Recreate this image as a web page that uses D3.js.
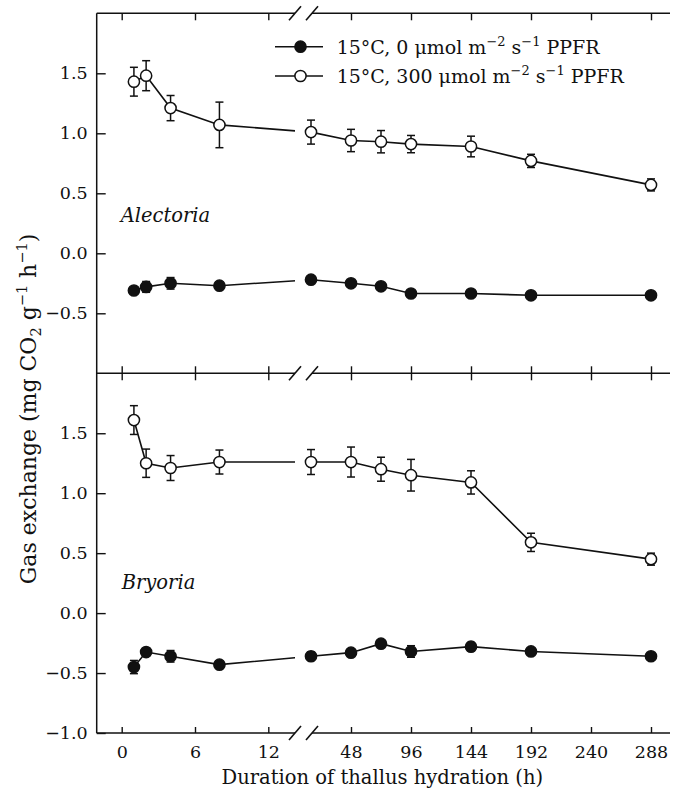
<!DOCTYPE html>
<html><head><meta charset="utf-8">
<script src="https://cdn.jsdelivr.net/npm/d3@7"></script>
<style>
body{margin:0;background:#fff}
svg{display:block}
text{font-family:"DejaVu Serif",serif;fill:#111}
</style>
</head><body>
<svg id="c" width="677" height="793"></svg>
<script>
// ---------- data ----------
const hours = [1, 2, 4, 8, 24, 48, 72, 96, 144, 192, 288];
const xTickValues = [0, 6, 12, 48, 96, 144, 192, 240, 288];
const yTicksTop = [1.5, 1.0, 0.5, 0.0, -0.5];
const yTicksBottom = [1.5, 1.0, 0.5, 0.0, -0.5, -1.0];

const alectoriaLight    = [1.43, 1.48, 1.21, 1.07, 1.01, 0.94, 0.93, 0.91, 0.89, 0.77, 0.57];
const alectoriaLightErr = [0.12, 0.125, 0.105, 0.19, 0.10, 0.093, 0.093, 0.072, 0.086, 0.055, 0.05];
const alectoriaDark     = [-0.31, -0.28, -0.25, -0.27, -0.22, -0.25, -0.275, -0.335, -0.335, -0.35, -0.35];
const alectoriaDarkErr  = [0.02, 0.045, 0.048, 0.02, 0.02, 0.02, 0.02, 0.02, 0.02, 0.02, 0.02];

const bryoriaLight      = [1.61, 1.25, 1.21, 1.26, 1.26, 1.26, 1.20, 1.15, 1.09, 0.59, 0.45];
const bryoriaLightErr   = [0.12, 0.118, 0.104, 0.10, 0.104, 0.125, 0.10, 0.132, 0.097, 0.076, 0.05];
const bryoriaDark       = [-0.45, -0.325, -0.36, -0.43, -0.36, -0.33, -0.255, -0.32, -0.28, -0.32, -0.36];
const bryoriaDarkErr    = [0.055, 0.03, 0.048, 0.02, 0.035, 0.02, 0.02, 0.048, 0.035, 0.02, 0.02];

const legendLabels = [
  {pre: "15°C, 0 μmol m", filled: true},
  {pre: "15°C, 300 μmol m", filled: false}
];
const speciesNames = ["Alectoria", "Bryoria"];
const xTitle = "Duration of thallus hydration (h)";

// ---------- layout ----------
const svg = d3.select("#c");
const L = 96.7, R = 670;
const breakA = 295, breakB = 312;

// broken x axis: polylinear scale
const x = d3.scaleLinear()
  .domain([0, 12, 24, 48, 288])
  .range([121.7, 268.3, 311, 351, 651]);

const yTop = d3.scaleLinear().domain([-1, 2]).range([373.3, 13.3]);
const yBot = d3.scaleLinear().domain([-1, 2]).range([733, 373.3]);

const fmt = d => d3.format(".1f")(d).replace("-", "\u2212");

// clip for series lines (gap at the axis break)
const defs = svg.append("defs");
const cp = defs.append("clipPath").attr("id", "brk");
cp.append("rect").attr("x", 0).attr("y", 0).attr("width", breakA).attr("height", 793);
cp.append("rect").attr("x", 306).attr("y", 0).attr("width", 677 - 306).attr("height", 793);

// ---------- frame ----------
const frame = svg.append("g").attr("stroke", "#111").attr("stroke-width", 1.5).attr("fill", "none");
frame.append("line").attr("x1", L).attr("x2", L).attr("y1", yTop(2)).attr("y2", yBot(-1));
[yTop(2), yTop(-1), yBot(-1)].forEach(yy => {
  frame.append("line").attr("x1", L).attr("x2", breakA).attr("y1", yy).attr("y2", yy);
  frame.append("line").attr("x1", breakB).attr("x2", R).attr("y1", yy).attr("y2", yy);
  [breakA, breakB].forEach(bx => {
    frame.append("line").attr("x1", bx - 6).attr("y1", yy + 7).attr("x2", bx + 6).attr("y2", yy - 7)
      .attr("stroke-width", 1.6);
  });
});

function styleAxis(g) {
  g.select(".domain").remove();
  g.selectAll(".tick line").attr("stroke", "#111").attr("stroke-width", 1.4);
  g.selectAll(".tick text").attr("fill", "#111").style("font-family", '"DejaVu Serif",serif')
    .style("font-size", "17.5px");
}

// x ticks: top (inward), middle (both), bottom (inward with labels)
svg.append("g").attr("transform", `translate(0,${yTop(2)})`)
  .call(d3.axisBottom(x).tickValues(xTickValues).tickSize(7).tickFormat(""))
  .call(styleAxis);
svg.append("g").attr("transform", `translate(0,${yTop(-1)})`)
  .call(d3.axisBottom(x).tickValues(xTickValues).tickSize(7).tickFormat(""))
  .call(styleAxis);
svg.append("g").attr("transform", `translate(0,${yTop(-1)})`)
  .call(d3.axisTop(x).tickValues(xTickValues).tickSize(7).tickFormat(""))
  .call(styleAxis);
svg.append("g").attr("transform", `translate(0,${yBot(-1)})`)
  .call(d3.axisBottom(x).tickValues(xTickValues).tickSizeInner(-6).tickSizeOuter(0).tickPadding(13).tickFormat(d3.format("d")))
  .call(styleAxis);

// y ticks
svg.append("g").attr("transform", `translate(${L},0)`)
  .call(d3.axisLeft(yTop).tickValues(yTicksTop).tickSizeInner(-9).tickSizeOuter(0).tickPadding(9).tickFormat(fmt))
  .call(styleAxis);
svg.append("g").attr("transform", `translate(${L},0)`)
  .call(d3.axisLeft(yBot).tickValues(yTicksBottom).tickSizeInner(-9).tickSizeOuter(0).tickPadding(9).tickFormat(fmt))
  .call(styleAxis);

// ---------- series ----------
const R_MARK = 5.6;
function drawSeries(yScale, vals, errs, filled) {
  const data = hours.map((h, i) => ({h, v: vals[i], e: errs[i]}));
  const line = d3.line().x(d => x(d.h)).y(d => yScale(d.v));
  svg.append("path").datum(data).attr("d", line)
    .attr("fill", "none").attr("stroke", "#111").attr("stroke-width", 1.6)
    .attr("clip-path", "url(#brk)");
  const eb = svg.append("g").attr("stroke", "#111").attr("stroke-width", 1.5);
  data.forEach(d => {
    const cx = x(d.h), y1 = yScale(d.v + d.e), y2 = yScale(d.v - d.e);
    eb.append("line").attr("x1", cx).attr("x2", cx).attr("y1", y1).attr("y2", y2);
    eb.append("line").attr("x1", cx - 4).attr("x2", cx + 4).attr("y1", y1).attr("y2", y1);
    eb.append("line").attr("x1", cx - 4).attr("x2", cx + 4).attr("y1", y2).attr("y2", y2);
  });
  svg.append("g").selectAll("circle").data(data).join("circle")
    .attr("cx", d => x(d.h)).attr("cy", d => yScale(d.v)).attr("r", R_MARK)
    .attr("fill", filled ? "#111" : "#fff").attr("stroke", "#111").attr("stroke-width", 1.5);
}
drawSeries(yTop, alectoriaLight, alectoriaLightErr, false);
drawSeries(yTop, alectoriaDark, alectoriaDarkErr, true);
drawSeries(yBot, bryoriaLight, bryoriaLightErr, false);
drawSeries(yBot, bryoriaDark, bryoriaDarkErr, true);

// ---------- species labels ----------
svg.append("text").attr("x", 120.7).attr("y", 221.7).text(speciesNames[0])
  .style("font-style", "italic").style("font-size", "19.5px");
svg.append("text").attr("x", 121.7).attr("y", 589).text(speciesNames[1])
  .style("font-style", "italic").style("font-size", "19.5px");

// ---------- legend ----------
const legY = [46.7, 76];
legendLabels.forEach((lg, i) => {
  const g = svg.append("g");
  g.append("line").attr("x1", 275).attr("x2", 323).attr("y1", legY[i]).attr("y2", legY[i])
    .attr("stroke", "#111").attr("stroke-width", 1.6);
  g.append("circle").attr("cx", 300.5).attr("cy", legY[i]).attr("r", R_MARK)
    .attr("fill", lg.filled ? "#111" : "#fff").attr("stroke", "#111").attr("stroke-width", 1.5);
  const t = g.append("text").attr("x", 336.7).attr("y", legY[i] + 7).style("font-size", "19px");
  t.append("tspan").text(lg.pre);
  t.append("tspan").attr("dy", -8).style("font-size", "13px").text("\u22122");
  t.append("tspan").attr("dy", 8).text(" s");
  t.append("tspan").attr("dy", -8).style("font-size", "13px").text("\u22121");
  t.append("tspan").attr("dy", 8).text(" PPFR");
});

// ---------- axis titles ----------
svg.append("text").attr("x", (L + R) / 2 - 1).attr("y", 784).attr("text-anchor", "middle")
  .style("font-size", "19.5px").text(xTitle);

const yt = svg.append("text").attr("transform", "translate(36,409) rotate(-90)")
  .attr("text-anchor", "middle").style("font-size", "22px");
yt.append("tspan").text("Gas exchange (mg CO");
yt.append("tspan").attr("dy", 5).style("font-size", "14.5px").text("2");
yt.append("tspan").attr("dy", -5).text(" g");
yt.append("tspan").attr("dy", -9).style("font-size", "14.5px").text("\u22121");
yt.append("tspan").attr("dy", 9).text(" h");
yt.append("tspan").attr("dy", -9).style("font-size", "14.5px").text("\u22121");
yt.append("tspan").attr("dy", 9).text(")");
</script>
</body></html>
